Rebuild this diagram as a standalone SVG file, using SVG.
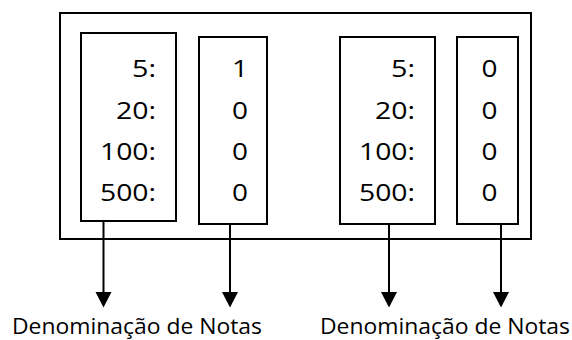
<svg xmlns="http://www.w3.org/2000/svg" width="572" height="340" viewBox="0 0 572 340">
<style>
.box{fill:#fff;stroke:#000;stroke-width:2}
.t{font-family:"Open Sans","Liberation Sans",sans-serif;font-size:23px;fill:#000}
.r{text-anchor:end}
.c{text-anchor:middle}
.lbl{font-family:"Open Sans","Liberation Sans",sans-serif;font-size:22px;fill:#000}
.conn{stroke:#000;stroke-width:2;fill:none}
.head{fill:#000}
</style>
<g id="outer"><rect class="box" x="60" y="13" width="471" height="226"/></g>
<g id="box1">
<rect class="box" x="81" y="33" width="95" height="188"/>
<text class="t r" x="156" y="77" textLength="24" lengthAdjust="spacingAndGlyphs">5:</text>
<text class="t r" x="156" y="118.5" textLength="40" lengthAdjust="spacingAndGlyphs">20:</text>
<text class="t r" x="156" y="160" textLength="56" lengthAdjust="spacingAndGlyphs">100:</text>
<text class="t r" x="156" y="201" textLength="56" lengthAdjust="spacingAndGlyphs">500:</text>
</g>
<g id="box2">
<rect class="box" x="199" y="37" width="68" height="187"/>
<text class="t c" x="240" y="77" textLength="16" lengthAdjust="spacingAndGlyphs">1</text>
<text class="t c" x="240" y="118.5" textLength="16" lengthAdjust="spacingAndGlyphs">0</text>
<text class="t c" x="240" y="160" textLength="16" lengthAdjust="spacingAndGlyphs">0</text>
<text class="t c" x="240" y="201" textLength="16" lengthAdjust="spacingAndGlyphs">0</text>
</g>
<g id="box3">
<rect class="box" x="340" y="37" width="95" height="187"/>
<text class="t r" x="415" y="77" textLength="24" lengthAdjust="spacingAndGlyphs">5:</text>
<text class="t r" x="415" y="118.5" textLength="40" lengthAdjust="spacingAndGlyphs">20:</text>
<text class="t r" x="415" y="160" textLength="56" lengthAdjust="spacingAndGlyphs">100:</text>
<text class="t r" x="415" y="201" textLength="56" lengthAdjust="spacingAndGlyphs">500:</text>
</g>
<g id="box4">
<rect class="box" x="457" y="37" width="61" height="187"/>
<text class="t c" x="489.5" y="77" textLength="16" lengthAdjust="spacingAndGlyphs">0</text>
<text class="t c" x="489.5" y="118.5" textLength="16" lengthAdjust="spacingAndGlyphs">0</text>
<text class="t c" x="489.5" y="160" textLength="16" lengthAdjust="spacingAndGlyphs">0</text>
<text class="t c" x="489.5" y="201" textLength="16" lengthAdjust="spacingAndGlyphs">0</text>
</g>
<g id="connectors">
<path d="M103.5,221 V293" class="conn"/>
<polygon class="head" points="95.5,292 111.5,292 103.5,307.5"/>
<path d="M230,224 V293" class="conn"/>
<polygon class="head" points="222,292 238,292 230,307.5"/>
<path d="M389,224 V293" class="conn"/>
<polygon class="head" points="381,292 397,292 389,307.5"/>
<path d="M501,224 V293" class="conn"/>
<polygon class="head" points="493,292 509,292 501,307.5"/>
</g>
<g id="labels">
<text class="lbl" x="12" y="334" textLength="250" lengthAdjust="spacingAndGlyphs">Denominação de Notas</text>
<text class="lbl" x="320" y="334" textLength="250" lengthAdjust="spacingAndGlyphs">Denominação de Notas</text>
</g>
</svg>
